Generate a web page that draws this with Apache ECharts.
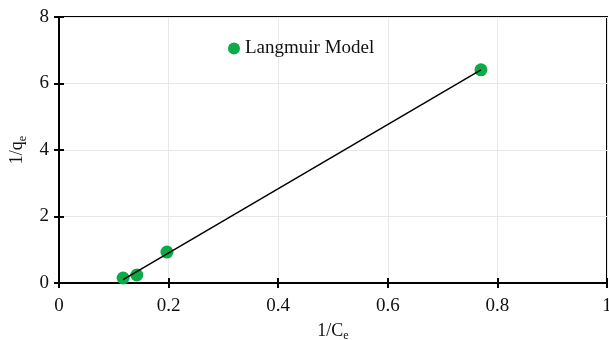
<!DOCTYPE html>
<html>
<head>
<meta charset="UTF-8">
<script src="https://cdn.jsdelivr.net/npm/echarts@6/dist/echarts.min.js"></script>
<style>
  * { margin: 0; padding: 0; }
  body { background: #fff; }
  #chart { width: 609px; height: 340px; }
</style>
</head>
<body>
<div id="chart"></div>
<script>
  // data
  const invCe = [0.117, 0.142, 0.197, 0.770];
  const invQe = [0.15, 0.24, 0.93, 6.41];
  // fitted line endpoints
  const fitX = [0.117, 0.770];
  const fitY = [0.10, 6.41];
  const xTicks = [0, 0.2, 0.4, 0.6, 0.8, 1];

  const points = invCe.map((x, i) => [x, invQe[i]]);
  const fitLine = fitX.map((x, i) => [x, fitY[i]]);

  const font = 'Liberation Serif';
  const chart = echarts.init(document.getElementById('chart'));

  const xBase = {
    type: 'value', min: 0, max: 1, interval: 0.2,
    axisLine: { lineStyle: { color: '#000', width: 2 } },
    splitLine: { show: false }
  };
  const yBase = {
    type: 'value', min: 0, max: 8, interval: 2,
    axisLine: { lineStyle: { color: '#000', width: 2 } },
    splitLine: { show: false }
  };

  chart.setOption({
    animation: false,
    backgroundColor: '#fff',
    grid: {
      left: 59, right: 2, top: 17, bottom: 57,
      outerBoundsMode: 'none',
      show: true, borderColor: '#000', borderWidth: 2
    },
    legend: {
      data: ['Langmuir Model'],
      left: 223, top: 34,
      icon: 'circle', itemWidth: 12, itemHeight: 12, itemGap: 3,
      textStyle: { fontFamily: font, fontSize: 19, color: '#111' }
    },
    xAxis: [
      Object.assign({}, xBase, {
        name: '1/C{sub|e}', nameLocation: 'middle', nameGap: 37,
        nameTextStyle: {
          fontFamily: font, fontSize: 18, color: '#111',
          rich: { sub: { fontFamily: font, fontSize: 12, color: '#111', padding: [10, 0, 0, 0] } }
        },
        axisTick: { show: true, length: 5, lineStyle: { color: '#000', width: 2 } },
        axisLabel: {
          fontFamily: font, fontSize: 19, color: '#111', margin: 14,
          formatter: v => xTicks.includes(v) ? String(v) : ''
        },
        splitLine: { show: true, lineStyle: { color: '#e8e8e8', width: 1 } }
      }),
      Object.assign({}, xBase, {
        position: 'bottom',
        axisTick: { show: true, inside: true, length: 5, lineStyle: { color: '#000', width: 2 } },
        axisLabel: { show: false }
      })
    ],
    yAxis: [
      Object.assign({}, yBase, {
        name: '1/q{sub|e}', nameLocation: 'middle', nameGap: 29, nameRotate: 90,
        nameTextStyle: {
          fontFamily: font, fontSize: 18, color: '#111',
          rich: { sub: { fontFamily: font, fontSize: 12, color: '#111', padding: [10, 0, 0, 0] } }
        },
        axisTick: { show: true, length: 5, lineStyle: { color: '#000', width: 2 } },
        axisLabel: { fontFamily: font, fontSize: 19, color: '#111', margin: 10 },
        splitLine: { show: true, lineStyle: { color: '#e8e8e8', width: 1 } }
      }),
      Object.assign({}, yBase, {
        position: 'left',
        axisTick: { show: true, inside: true, length: 5, lineStyle: { color: '#000', width: 2 } },
        axisLabel: { show: false }
      })
    ],
    series: [
      {
        name: 'fit',
        type: 'line',
        data: fitLine,
        showSymbol: false,
        lineStyle: { color: '#000', width: 1.5 },
        z: 3
      },
      {
        name: 'Langmuir Model',
        type: 'scatter',
        data: points,
        symbolSize: 13,
        itemStyle: { color: '#0caa48', opacity: 1 },
        z: 2
      }
    ]
  });
</script>
</body>
</html>
